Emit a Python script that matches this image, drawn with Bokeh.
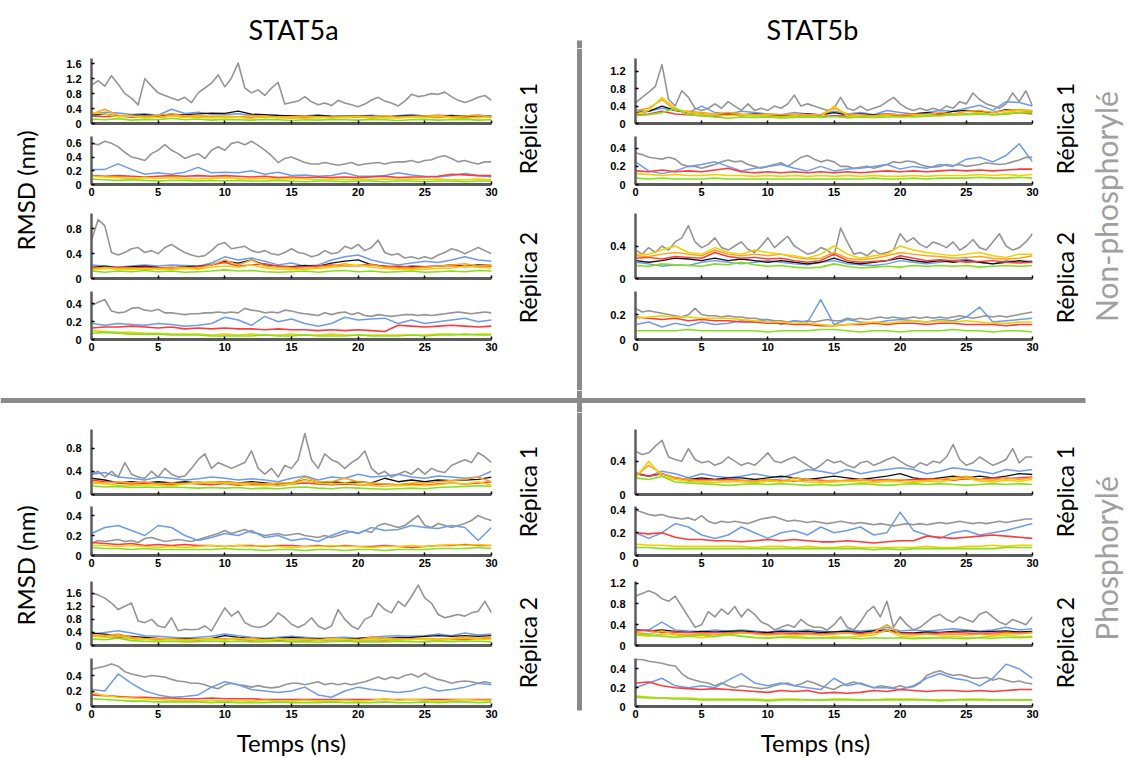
import math
from bokeh.plotting import figure
from bokeh.layouts import row, column
from bokeh.models import Range1d, FixedTicker, CustomJSTickFormatter, Span
from bokeh.core.properties import value
from bokeh.embed import file_html
from bokeh.resources import INLINE

# ---------------- time axes ----------------
TIME_FINE = [i / 2 for i in range(61)]   # 0, 0.5, ... 30 ns
TIME = list(range(31))                   # 0, 1, ... 30 ns
X_TICKS = [0, 5, 10, 15, 20, 25, 30]

GRAY = "#959595"; BLUE = "#6f9be8"; BLACK = "#111111"; RED = "#ff3a3a"
ORANGE = "#ffa31a"; YELLOW = "#f2cf00"; GREEN = "#84e01e"
AXIS = "#5c5c5c"; CROSS = "#8a8a8a"; SIDE = "#a0a0a0"

# ================= STAT5a, non-phosphorylé =================
a_np_r1_top_gray = [1.02,1.15,1.0,1.28,1.05,0.8,0.68,0.5,1.2,1.0,
                    0.82,0.75,0.68,0.62,0.7,0.56,0.82,0.95,1.08,1.3,
                    0.98,1.22,1.62,0.95,0.82,0.9,0.75,0.95,1.1,0.52,
                    0.56,0.6,0.72,0.58,0.5,0.55,0.48,0.62,0.55,0.5,
                    0.45,0.52,0.63,0.7,0.6,0.55,0.47,0.6,0.78,0.72,
                    0.75,0.8,0.78,0.84,0.72,0.62,0.56,0.62,0.7,0.75,0.62]
a_np_r1_top_blue = [0.25,0.3,0.28,0.24,0.26,0.22,0.38,0.27,0.3,0.25,0.24,0.26,0.22,0.2,0.22,0.2,0.21,0.23,0.19,0.21,0.2,0.22,0.19,0.21,0.24,0.2,0.22,0.21,0.2,0.23,0.19]
a_np_r1_top_black = [0.22,0.25,0.2,0.22,0.24,0.2,0.25,0.23,0.26,0.28,0.27,0.33,0.25,0.24,0.22,0.21,0.2,0.22,0.2,0.19,0.21,0.2,0.18,0.2,0.21,0.19,0.2,0.22,0.2,0.18,0.2]
a_np_r1_top_red = [0.2,0.18,0.2,0.17,0.19,0.16,0.2,0.18,0.17,0.19,0.18,0.17,0.16,0.18,0.17,0.15,0.17,0.16,0.18,0.16,0.17,0.18,0.16,0.17,0.19,0.17,0.16,0.18,0.17,0.16,0.18]
a_np_r1_top_orange = [0.25,0.38,0.22,0.2,0.18,0.22,0.26,0.2,0.22,0.19,0.2,0.18,0.21,0.2,0.17,0.19,0.2,0.18,0.17,0.19,0.2,0.18,0.21,0.17,0.19,0.2,0.22,0.18,0.2,0.22,0.17]
a_np_r1_top_yellow = [0.3,0.25,0.18,0.2,0.15,0.17,0.2,0.16,0.18,0.15,0.17,0.16,0.14,0.18,0.15,0.16,0.14,0.17,0.15,0.16,0.18,0.14,0.16,0.15,0.17,0.16,0.19,0.15,0.14,0.17,0.15]
a_np_r1_top_green = [0.12,0.1,0.13,0.09,0.11,0.1,0.14,0.1,0.12,0.09,0.11,0.1,0.09,0.11,0.1,0.08,0.1,0.09,0.11,0.1,0.09,0.11,0.1,0.08,0.1,0.11,0.09,0.1,0.11,0.09,0.1]

a_np_r1_bot_gray = [0.6,0.58,0.63,0.6,0.55,0.47,0.4,0.38,0.35,0.45,
                    0.5,0.58,0.5,0.45,0.38,0.42,0.45,0.38,0.5,0.55,
                    0.5,0.6,0.62,0.58,0.63,0.57,0.5,0.42,0.32,0.38,
                    0.4,0.36,0.32,0.3,0.3,0.32,0.3,0.28,0.3,0.32,
                    0.28,0.3,0.31,0.32,0.3,0.32,0.33,0.33,0.35,0.32,
                    0.35,0.36,0.4,0.42,0.38,0.33,0.35,0.32,0.3,0.33,0.33]
a_np_r1_bot_blue = [0.22,0.22,0.3,0.22,0.15,0.17,0.15,0.18,0.25,0.17,0.18,0.17,0.2,0.15,0.18,0.13,0.14,0.12,0.13,0.17,0.12,0.12,0.13,0.17,0.14,0.12,0.11,0.13,0.16,0.13,0.11]
a_np_r1_bot_red = [0.13,0.12,0.13,0.12,0.11,0.12,0.13,0.12,0.13,0.12,0.13,0.12,0.11,0.12,0.1,0.11,0.1,0.11,0.1,0.11,0.1,0.11,0.12,0.1,0.11,0.11,0.12,0.15,0.14,0.13,0.13]
a_np_r1_bot_yellow = [0.12,0.11,0.1,0.09,0.1,0.09,0.1,0.09,0.08,0.09,0.1,0.09,0.08,0.09,0.08,0.09,0.08,0.07,0.08,0.07,0.08,0.07,0.08,0.07,0.08,0.07,0.08,0.07,0.07,0.08,0.07]
a_np_r1_bot_green = [0.08,0.07,0.06,0.07,0.06,0.05,0.06,0.06,0.05,0.06,0.05,0.06,0.05,0.05,0.06,0.05,0.04,0.05,0.05,0.04,0.05,0.05,0.04,0.05,0.05,0.04,0.05,0.05,0.04,0.05,0.05]

a_np_r2_top_gray = [0.62,0.95,0.85,0.42,0.38,0.42,0.48,0.5,0.42,0.45,
                    0.4,0.5,0.55,0.48,0.42,0.38,0.35,0.37,0.45,0.55,
                    0.58,0.48,0.5,0.52,0.45,0.42,0.45,0.4,0.38,0.42,
                    0.48,0.42,0.4,0.35,0.38,0.45,0.4,0.42,0.52,0.48,
                    0.55,0.45,0.5,0.62,0.42,0.38,0.4,0.33,0.35,0.32,
                    0.35,0.32,0.38,0.42,0.48,0.45,0.4,0.45,0.5,0.45,0.4]
a_np_r2_top_blue = [0.22,0.2,0.18,0.2,0.22,0.2,0.22,0.21,0.2,0.25,0.35,0.3,0.33,0.28,0.22,0.25,0.2,0.22,0.3,0.35,0.38,0.3,0.25,0.22,0.25,0.28,0.26,0.3,0.35,0.3,0.28]
a_np_r2_top_black = [0.18,0.2,0.17,0.19,0.2,0.18,0.17,0.19,0.2,0.22,0.28,0.25,0.3,0.22,0.2,0.19,0.21,0.2,0.25,0.28,0.3,0.22,0.2,0.18,0.2,0.19,0.2,0.22,0.2,0.22,0.21]
a_np_r2_top_red = [0.18,0.17,0.18,0.17,0.18,0.17,0.18,0.17,0.19,0.22,0.26,0.2,0.22,0.24,0.2,0.18,0.19,0.2,0.22,0.2,0.21,0.23,0.19,0.2,0.18,0.19,0.2,0.21,0.19,0.2,0.2]
a_np_r2_top_orange = [0.15,0.18,0.16,0.17,0.15,0.16,0.17,0.18,0.16,0.22,0.3,0.22,0.3,0.2,0.18,0.17,0.15,0.18,0.2,0.24,0.2,0.22,0.18,0.17,0.16,0.18,0.2,0.22,0.24,0.2,0.22]
a_np_r2_top_yellow = [0.14,0.16,0.15,0.14,0.16,0.15,0.14,0.16,0.15,0.18,0.2,0.18,0.22,0.17,0.15,0.14,0.15,0.16,0.18,0.2,0.22,0.18,0.16,0.15,0.14,0.15,0.16,0.17,0.2,0.18,0.17]
a_np_r2_top_green = [0.12,0.1,0.12,0.11,0.13,0.11,0.12,0.1,0.11,0.12,0.14,0.12,0.13,0.11,0.1,0.11,0.12,0.1,0.12,0.13,0.11,0.12,0.1,0.11,0.12,0.1,0.11,0.12,0.11,0.13,0.12]

a_np_r2_bot_gray = [0.38,0.42,0.45,0.32,0.3,0.31,0.35,0.36,0.33,0.32,
                    0.34,0.3,0.3,0.29,0.28,0.29,0.29,0.3,0.3,0.31,
                    0.3,0.31,0.3,0.35,0.33,0.32,0.3,0.31,0.3,0.33,
                    0.32,0.3,0.29,0.28,0.27,0.3,0.28,0.3,0.31,0.28,
                    0.3,0.27,0.26,0.28,0.27,0.26,0.27,0.28,0.28,0.27,
                    0.28,0.27,0.28,0.29,0.3,0.31,0.3,0.29,0.3,0.31,0.3]
a_np_r2_bot_blue = [0.18,0.16,0.18,0.17,0.16,0.18,0.17,0.15,0.16,0.18,0.25,0.22,0.16,0.26,0.2,0.23,0.18,0.15,0.18,0.25,0.22,0.23,0.24,0.18,0.22,0.18,0.2,0.22,0.24,0.2,0.22]
a_np_r2_bot_red = [0.13,0.14,0.14,0.15,0.14,0.13,0.14,0.12,0.13,0.12,0.13,0.12,0.12,0.11,0.12,0.11,0.11,0.1,0.11,0.1,0.11,0.1,0.09,0.16,0.15,0.14,0.15,0.16,0.15,0.14,0.15]
a_np_r2_bot_yellow = [0.1,0.09,0.08,0.08,0.07,0.07,0.06,0.06,0.06,0.05,0.06,0.05,0.06,0.05,0.05,0.06,0.05,0.05,0.06,0.05,0.05,0.05,0.05,0.05,0.05,0.05,0.06,0.06,0.05,0.06,0.06]
a_np_r2_bot_green = [0.07,0.08,0.07,0.06,0.06,0.06,0.05,0.05,0.05,0.04,0.04,0.04,0.04,0.05,0.04,0.04,0.05,0.04,0.04,0.04,0.05,0.04,0.04,0.04,0.05,0.04,0.05,0.05,0.06,0.05,0.05]

# ================= STAT5b, non-phosphorylé =================
b_np_r1_top_gray = [0.47,0.6,0.72,0.85,1.35,0.55,0.4,0.75,0.6,0.35,
                    0.3,0.35,0.45,0.35,0.5,0.4,0.3,0.45,0.3,0.35,
                    0.3,0.4,0.35,0.45,0.65,0.4,0.45,0.4,0.35,0.3,
                    0.35,0.6,0.35,0.3,0.4,0.3,0.35,0.4,0.5,0.6,
                    0.45,0.35,0.3,0.35,0.3,0.35,0.3,0.4,0.35,0.5,
                    0.45,0.7,0.55,0.45,0.4,0.35,0.45,0.7,0.5,0.75,0.4]
b_np_r1_top_blue = [0.3,0.28,0.35,0.3,0.25,0.4,0.25,0.22,0.28,0.25,0.22,0.2,0.25,0.22,0.2,0.28,0.22,0.25,0.2,0.3,0.25,0.22,0.25,0.3,0.28,0.35,0.42,0.3,0.5,0.48,0.4]
b_np_r1_top_black = [0.25,0.28,0.4,0.3,0.25,0.22,0.2,0.22,0.2,0.22,0.2,0.18,0.2,0.22,0.2,0.25,0.2,0.22,0.2,0.22,0.2,0.22,0.25,0.22,0.28,0.3,0.28,0.25,0.32,0.3,0.28]
b_np_r1_top_red = [0.2,0.22,0.28,0.22,0.2,0.18,0.16,0.2,0.18,0.2,0.17,0.16,0.18,0.17,0.16,0.18,0.17,0.16,0.18,0.2,0.18,0.19,0.2,0.21,0.2,0.22,0.24,0.2,0.22,0.25,0.22]
b_np_r1_top_orange = [0.3,0.35,0.55,0.3,0.28,0.25,0.22,0.25,0.22,0.2,0.22,0.2,0.22,0.2,0.2,0.35,0.22,0.2,0.18,0.22,0.2,0.22,0.2,0.25,0.22,0.28,0.3,0.25,0.3,0.32,0.3]
b_np_r1_top_yellow = [0.22,0.3,0.6,0.35,0.25,0.22,0.2,0.18,0.2,0.17,0.18,0.15,0.18,0.16,0.15,0.4,0.18,0.15,0.16,0.18,0.15,0.17,0.2,0.18,0.2,0.22,0.25,0.2,0.25,0.3,0.28]
b_np_r1_top_green = [0.18,0.2,0.25,0.35,0.2,0.18,0.15,0.12,0.15,0.14,0.15,0.13,0.14,0.15,0.14,0.16,0.13,0.15,0.14,0.15,0.16,0.15,0.17,0.18,0.2,0.2,0.22,0.2,0.22,0.25,0.25]

b_np_r1_bot_gray = [0.35,0.33,0.3,0.29,0.28,0.3,0.28,0.22,0.2,0.2,
                    0.18,0.2,0.22,0.25,0.27,0.25,0.26,0.22,0.2,0.18,
                    0.2,0.22,0.24,0.2,0.25,0.3,0.32,0.28,0.25,0.27,
                    0.25,0.2,0.2,0.18,0.19,0.2,0.18,0.2,0.22,0.25,
                    0.24,0.26,0.25,0.22,0.2,0.19,0.2,0.22,0.21,0.22,
                    0.2,0.21,0.22,0.24,0.23,0.22,0.23,0.25,0.27,0.3,0.3]
b_np_r1_bot_blue = [0.25,0.15,0.12,0.15,0.2,0.22,0.25,0.2,0.15,0.18,0.2,0.22,0.18,0.15,0.2,0.15,0.17,0.18,0.2,0.22,0.17,0.2,0.18,0.22,0.2,0.28,0.3,0.25,0.32,0.45,0.25]
b_np_r1_bot_red = [0.15,0.14,0.16,0.14,0.15,0.14,0.16,0.18,0.14,0.13,0.14,0.13,0.14,0.13,0.14,0.13,0.14,0.13,0.14,0.15,0.14,0.15,0.14,0.15,0.16,0.15,0.16,0.15,0.16,0.17,0.17]
b_np_r1_bot_yellow = [0.12,0.11,0.1,0.11,0.1,0.1,0.11,0.1,0.1,0.09,0.1,0.09,0.1,0.09,0.1,0.09,0.1,0.09,0.1,0.09,0.09,0.1,0.09,0.1,0.1,0.1,0.11,0.1,0.11,0.1,0.11]
b_np_r1_bot_green = [0.07,0.06,0.07,0.06,0.06,0.06,0.07,0.06,0.06,0.06,0.06,0.06,0.06,0.06,0.06,0.06,0.06,0.06,0.07,0.06,0.06,0.07,0.06,0.07,0.07,0.07,0.08,0.07,0.07,0.08,0.07]

b_np_r2_top_gray = [0.35,0.3,0.38,0.32,0.4,0.35,0.45,0.5,0.65,0.45,
                    0.38,0.42,0.5,0.38,0.35,0.4,0.45,0.36,0.32,0.4,
                    0.5,0.38,0.45,0.52,0.4,0.35,0.3,0.32,0.38,0.35,
                    0.28,0.62,0.45,0.3,0.32,0.28,0.35,0.3,0.32,0.35,
                    0.55,0.45,0.5,0.42,0.38,0.45,0.42,0.38,0.45,0.35,
                    0.4,0.48,0.38,0.35,0.45,0.55,0.4,0.35,0.38,0.45,0.55]
b_np_r2_top_blue = [0.2,0.18,0.15,0.17,0.16,0.2,0.22,0.2,0.18,0.2,0.22,0.2,0.18,0.17,0.2,0.22,0.18,0.17,0.16,0.18,0.22,0.2,0.18,0.2,0.22,0.24,0.2,0.18,0.22,0.2,0.22]
b_np_r2_top_black = [0.22,0.2,0.22,0.25,0.24,0.22,0.25,0.22,0.24,0.22,0.2,0.22,0.2,0.18,0.2,0.25,0.2,0.18,0.2,0.22,0.25,0.22,0.2,0.22,0.2,0.22,0.2,0.18,0.2,0.22,0.2]
b_np_r2_top_red = [0.25,0.26,0.24,0.27,0.26,0.25,0.32,0.27,0.25,0.26,0.24,0.25,0.22,0.2,0.22,0.3,0.22,0.2,0.21,0.22,0.28,0.25,0.22,0.23,0.22,0.2,0.21,0.22,0.2,0.19,0.2]
b_np_r2_top_orange = [0.28,0.27,0.3,0.32,0.3,0.28,0.35,0.3,0.28,0.3,0.28,0.3,0.26,0.24,0.25,0.32,0.25,0.23,0.25,0.28,0.32,0.3,0.28,0.27,0.25,0.26,0.27,0.25,0.24,0.25,0.28]
b_np_r2_top_yellow = [0.3,0.3,0.35,0.4,0.32,0.3,0.38,0.32,0.3,0.35,0.32,0.3,0.28,0.25,0.3,0.4,0.3,0.25,0.28,0.3,0.4,0.35,0.32,0.3,0.28,0.3,0.32,0.28,0.26,0.3,0.3]
b_np_r2_top_green = [0.16,0.15,0.18,0.17,0.16,0.15,0.18,0.17,0.2,0.17,0.15,0.16,0.14,0.13,0.14,0.18,0.15,0.13,0.14,0.15,0.14,0.16,0.15,0.16,0.15,0.16,0.14,0.15,0.16,0.15,0.16]

b_np_r2_bot_gray = [0.25,0.22,0.23,0.22,0.21,0.2,0.19,0.18,0.2,0.25,
                    0.2,0.19,0.19,0.18,0.19,0.18,0.18,0.17,0.17,0.16,
                    0.16,0.15,0.15,0.14,0.15,0.14,0.15,0.14,0.15,0.16,
                    0.15,0.15,0.17,0.16,0.17,0.16,0.17,0.18,0.17,0.18,
                    0.17,0.17,0.18,0.17,0.18,0.17,0.18,0.17,0.18,0.19,
                    0.18,0.17,0.18,0.19,0.18,0.19,0.18,0.19,0.2,0.21,0.22]
b_np_r2_bot_blue = [0.12,0.14,0.1,0.13,0.11,0.14,0.12,0.13,0.15,0.14,0.16,0.12,0.15,0.14,0.32,0.12,0.16,0.14,0.13,0.15,0.16,0.15,0.14,0.16,0.15,0.18,0.26,0.14,0.15,0.16,0.17]
b_np_r2_bot_red = [0.18,0.17,0.16,0.17,0.15,0.16,0.15,0.15,0.14,0.14,0.13,0.13,0.12,0.12,0.11,0.11,0.12,0.12,0.13,0.12,0.13,0.13,0.12,0.13,0.13,0.12,0.12,0.12,0.11,0.12,0.12]
b_np_r2_bot_yellow = [0.17,0.18,0.19,0.18,0.18,0.17,0.17,0.17,0.16,0.15,0.14,0.14,0.13,0.13,0.12,0.11,0.12,0.13,0.14,0.13,0.14,0.15,0.14,0.15,0.14,0.15,0.14,0.13,0.13,0.14,0.14]
b_np_r2_bot_green = [0.07,0.07,0.07,0.07,0.08,0.07,0.07,0.07,0.07,0.07,0.06,0.07,0.07,0.07,0.08,0.08,0.07,0.06,0.07,0.07,0.06,0.07,0.07,0.07,0.08,0.07,0.07,0.06,0.07,0.07,0.06]

# ================= STAT5a, phosphorylé =================
a_p_r1_top_gray = [0.35,0.4,0.3,0.4,0.3,0.55,0.35,0.3,0.28,0.4,
                   0.3,0.45,0.35,0.3,0.32,0.45,0.6,0.7,0.45,0.55,
                   0.5,0.45,0.5,0.55,0.75,0.45,0.35,0.45,0.3,0.5,
                   0.45,0.6,1.05,0.6,0.45,0.7,0.6,0.55,0.45,0.55,
                   0.62,0.75,0.45,0.35,0.4,0.3,0.35,0.4,0.35,0.45,
                   0.35,0.45,0.4,0.38,0.5,0.55,0.6,0.55,0.72,0.65,0.55]
a_p_r1_top_blue = [0.35,0.38,0.3,0.28,0.25,0.3,0.28,0.25,0.27,0.3,0.28,0.25,0.27,0.25,0.22,0.28,0.32,0.25,0.3,0.28,0.35,0.3,0.32,0.35,0.3,0.28,0.32,0.3,0.28,0.3,0.4]
a_p_r1_top_black = [0.28,0.25,0.2,0.22,0.2,0.22,0.2,0.22,0.2,0.21,0.22,0.2,0.22,0.2,0.18,0.2,0.25,0.2,0.22,0.2,0.22,0.2,0.28,0.22,0.25,0.22,0.25,0.24,0.25,0.26,0.3]
a_p_r1_top_red = [0.25,0.22,0.2,0.18,0.2,0.18,0.17,0.2,0.18,0.17,0.19,0.16,0.18,0.17,0.15,0.18,0.2,0.18,0.17,0.18,0.17,0.16,0.18,0.17,0.18,0.16,0.18,0.2,0.18,0.2,0.22]
a_p_r1_top_orange = [0.22,0.2,0.22,0.2,0.22,0.18,0.2,0.18,0.22,0.2,0.22,0.2,0.2,0.18,0.2,0.2,0.3,0.22,0.22,0.28,0.22,0.2,0.18,0.17,0.2,0.2,0.22,0.24,0.26,0.3,0.22]
a_p_r1_top_yellow = [0.2,0.18,0.16,0.15,0.17,0.16,0.15,0.18,0.2,0.22,0.2,0.18,0.16,0.15,0.16,0.18,0.25,0.2,0.18,0.2,0.18,0.15,0.14,0.15,0.16,0.15,0.17,0.2,0.18,0.22,0.16]
a_p_r1_top_green = [0.15,0.13,0.14,0.12,0.13,0.12,0.13,0.12,0.11,0.12,0.11,0.12,0.1,0.11,0.1,0.12,0.13,0.11,0.1,0.12,0.11,0.1,0.09,0.1,0.11,0.1,0.12,0.13,0.14,0.15,0.14]

a_p_r1_bot_gray = [0.12,0.15,0.14,0.15,0.16,0.14,0.15,0.13,0.17,0.18,
                   0.16,0.14,0.15,0.16,0.15,0.14,0.16,0.18,0.2,0.22,
                   0.25,0.22,0.24,0.26,0.23,0.22,0.2,0.21,0.22,0.2,
                   0.21,0.22,0.2,0.19,0.18,0.2,0.18,0.2,0.22,0.24,
                   0.22,0.25,0.23,0.3,0.32,0.3,0.28,0.3,0.35,0.4,
                   0.3,0.28,0.32,0.3,0.28,0.3,0.32,0.35,0.4,0.37,0.35]
a_p_r1_bot_blue = [0.22,0.28,0.3,0.25,0.2,0.3,0.28,0.2,0.15,0.18,0.22,0.2,0.25,0.18,0.2,0.15,0.17,0.14,0.2,0.25,0.22,0.28,0.25,0.26,0.3,0.28,0.27,0.3,0.28,0.15,0.28]
a_p_r1_bot_red = [0.13,0.12,0.11,0.12,0.1,0.11,0.1,0.11,0.1,0.1,0.09,0.1,0.1,0.09,0.1,0.1,0.09,0.1,0.09,0.1,0.09,0.09,0.1,0.09,0.08,0.09,0.1,0.1,0.11,0.1,0.1]
a_p_r1_bot_yellow = [0.1,0.1,0.09,0.1,0.09,0.08,0.09,0.08,0.09,0.1,0.09,0.1,0.09,0.1,0.09,0.08,0.09,0.09,0.1,0.09,0.09,0.08,0.09,0.09,0.1,0.09,0.1,0.11,0.1,0.11,0.1]
a_p_r1_bot_green = [0.08,0.07,0.07,0.06,0.07,0.06,0.06,0.06,0.06,0.06,0.07,0.06,0.06,0.05,0.06,0.06,0.05,0.06,0.06,0.05,0.06,0.06,0.05,0.06,0.06,0.06,0.07,0.07,0.07,0.08,0.07]

a_p_r2_top_gray = [1.6,1.55,1.45,1.3,1.1,1.2,1.3,0.75,0.7,0.8,
                   0.6,0.55,0.85,0.45,0.5,0.48,0.5,0.6,0.45,0.8,
                   1.15,0.9,1.05,0.7,0.6,0.55,0.6,0.75,1.0,0.85,
                   0.65,0.55,0.65,0.85,0.6,0.5,0.6,1.1,0.8,0.6,
                   0.5,0.8,0.9,1.3,1.1,1.0,1.35,1.2,1.5,1.85,
                   1.45,1.3,0.95,0.85,0.9,0.95,0.9,1.0,1.05,1.35,1.0]
a_p_r2_top_blue = [0.35,0.4,0.45,0.38,0.3,0.28,0.25,0.22,0.25,0.28,0.35,0.3,0.25,0.22,0.25,0.28,0.25,0.22,0.24,0.25,0.22,0.25,0.28,0.3,0.28,0.3,0.35,0.3,0.38,0.32,0.35]
a_p_r2_top_black = [0.38,0.35,0.3,0.28,0.25,0.22,0.2,0.22,0.2,0.22,0.3,0.25,0.22,0.2,0.22,0.25,0.22,0.2,0.22,0.2,0.22,0.25,0.22,0.24,0.25,0.28,0.3,0.28,0.3,0.28,0.3]
a_p_r2_top_red = [0.3,0.28,0.25,0.22,0.2,0.18,0.2,0.18,0.17,0.19,0.2,0.18,0.17,0.18,0.16,0.18,0.17,0.16,0.18,0.17,0.16,0.18,0.17,0.18,0.2,0.18,0.17,0.19,0.18,0.2,0.22]
a_p_r2_top_orange = [0.32,0.3,0.35,0.25,0.2,0.22,0.2,0.18,0.2,0.22,0.18,0.2,0.22,0.18,0.2,0.18,0.2,0.18,0.22,0.2,0.18,0.25,0.22,0.2,0.18,0.22,0.2,0.22,0.25,0.22,0.25]
a_p_r2_top_yellow = [0.28,0.25,0.3,0.2,0.18,0.16,0.18,0.15,0.18,0.2,0.16,0.22,0.18,0.15,0.2,0.16,0.18,0.15,0.2,0.18,0.15,0.2,0.18,0.16,0.18,0.2,0.17,0.2,0.22,0.18,0.2]
a_p_r2_top_green = [0.2,0.18,0.22,0.15,0.13,0.12,0.13,0.11,0.12,0.14,0.12,0.13,0.11,0.12,0.13,0.11,0.12,0.1,0.12,0.13,0.11,0.12,0.11,0.13,0.12,0.11,0.13,0.12,0.14,0.13,0.12]

a_p_r2_bot_gray = [0.48,0.5,0.52,0.55,0.52,0.45,0.42,0.4,0.38,0.4,
                   0.39,0.38,0.35,0.33,0.32,0.3,0.3,0.28,0.25,0.23,
                   0.28,0.3,0.28,0.27,0.25,0.27,0.25,0.24,0.25,0.28,
                   0.3,0.3,0.28,0.3,0.32,0.28,0.3,0.28,0.3,0.28,
                   0.3,0.32,0.35,0.38,0.35,0.38,0.36,0.4,0.42,0.38,
                   0.43,0.38,0.35,0.33,0.3,0.32,0.33,0.32,0.3,0.32,0.3]
a_p_r2_bot_blue = [0.22,0.2,0.42,0.3,0.2,0.15,0.12,0.13,0.15,0.25,0.32,0.28,0.22,0.2,0.18,0.2,0.25,0.15,0.12,0.2,0.25,0.22,0.2,0.18,0.2,0.25,0.2,0.22,0.25,0.3,0.28]
a_p_r2_bot_red = [0.15,0.14,0.13,0.12,0.12,0.11,0.11,0.1,0.1,0.11,0.1,0.1,0.1,0.09,0.09,0.09,0.09,0.09,0.09,0.09,0.09,0.09,0.09,0.09,0.09,0.09,0.09,0.09,0.09,0.09,0.09]
a_p_r2_bot_yellow = [0.18,0.14,0.12,0.11,0.1,0.09,0.08,0.08,0.07,0.08,0.07,0.08,0.07,0.08,0.07,0.07,0.08,0.07,0.07,0.08,0.07,0.08,0.1,0.08,0.09,0.08,0.07,0.08,0.09,0.08,0.08]
a_p_r2_bot_green = [0.1,0.09,0.08,0.07,0.07,0.06,0.06,0.06,0.06,0.05,0.06,0.05,0.05,0.05,0.06,0.05,0.05,0.05,0.06,0.05,0.05,0.05,0.06,0.05,0.05,0.06,0.05,0.06,0.06,0.05,0.06]

# ================= STAT5b, phosphorylé =================
b_p_r1_top_gray = [0.52,0.48,0.5,0.58,0.65,0.45,0.42,0.4,0.55,0.42,
                   0.38,0.4,0.35,0.38,0.45,0.4,0.35,0.38,0.35,0.42,
                   0.5,0.4,0.38,0.42,0.45,0.4,0.35,0.3,0.35,0.42,
                   0.38,0.4,0.35,0.32,0.38,0.4,0.35,0.38,0.42,0.45,
                   0.4,0.35,0.32,0.38,0.35,0.4,0.38,0.45,0.6,0.42,
                   0.35,0.38,0.45,0.4,0.35,0.38,0.42,0.55,0.38,0.45,0.45]
b_p_r1_top_blue = [0.25,0.22,0.28,0.25,0.2,0.25,0.22,0.2,0.22,0.25,0.22,0.2,0.25,0.3,0.28,0.25,0.3,0.25,0.28,0.3,0.32,0.3,0.25,0.28,0.32,0.3,0.28,0.25,0.3,0.28,0.3]
b_p_r1_top_black = [0.25,0.22,0.25,0.2,0.18,0.2,0.18,0.2,0.2,0.18,0.2,0.22,0.2,0.18,0.2,0.22,0.2,0.18,0.2,0.22,0.25,0.2,0.18,0.2,0.22,0.2,0.22,0.2,0.22,0.25,0.24]
b_p_r1_top_red = [0.26,0.22,0.25,0.2,0.17,0.18,0.17,0.18,0.17,0.16,0.18,0.17,0.16,0.18,0.17,0.16,0.17,0.18,0.17,0.18,0.17,0.18,0.19,0.18,0.17,0.19,0.18,0.2,0.19,0.2,0.21]
b_p_r1_top_orange = [0.22,0.35,0.25,0.2,0.18,0.16,0.17,0.15,0.17,0.16,0.18,0.16,0.2,0.18,0.16,0.17,0.16,0.18,0.16,0.17,0.18,0.16,0.17,0.18,0.2,0.22,0.18,0.17,0.2,0.18,0.2]
b_p_r1_top_yellow = [0.2,0.4,0.22,0.18,0.16,0.15,0.14,0.16,0.15,0.14,0.16,0.15,0.17,0.15,0.14,0.15,0.16,0.15,0.14,0.16,0.15,0.14,0.16,0.15,0.18,0.2,0.16,0.15,0.17,0.16,0.18]
b_p_r1_top_green = [0.2,0.18,0.22,0.15,0.14,0.13,0.12,0.11,0.12,0.13,0.12,0.13,0.12,0.11,0.12,0.11,0.12,0.13,0.12,0.11,0.12,0.13,0.12,0.13,0.12,0.11,0.12,0.13,0.12,0.13,0.12]

b_p_r1_bot_gray = [0.4,0.38,0.36,0.35,0.36,0.34,0.33,0.32,0.33,0.31,
                   0.35,0.3,0.28,0.3,0.29,0.3,0.29,0.28,0.3,0.32,
                   0.33,0.34,0.32,0.3,0.31,0.3,0.29,0.3,0.29,0.28,
                   0.29,0.3,0.29,0.28,0.29,0.28,0.27,0.28,0.27,0.26,
                   0.27,0.28,0.27,0.28,0.27,0.28,0.29,0.28,0.29,0.3,
                   0.29,0.28,0.29,0.28,0.29,0.3,0.29,0.3,0.31,0.32,0.32]
b_p_r1_bot_blue = [0.2,0.15,0.2,0.28,0.25,0.18,0.15,0.18,0.25,0.2,0.15,0.2,0.22,0.18,0.25,0.2,0.22,0.25,0.18,0.2,0.38,0.22,0.18,0.15,0.2,0.22,0.18,0.2,0.22,0.25,0.28]
b_p_r1_bot_red = [0.2,0.19,0.2,0.16,0.14,0.14,0.13,0.13,0.12,0.13,0.14,0.13,0.14,0.13,0.12,0.12,0.13,0.12,0.11,0.12,0.13,0.13,0.17,0.16,0.15,0.16,0.17,0.18,0.17,0.16,0.15]
b_p_r1_bot_yellow = [0.1,0.09,0.09,0.08,0.08,0.08,0.08,0.08,0.08,0.07,0.08,0.08,0.07,0.08,0.07,0.07,0.08,0.07,0.07,0.07,0.07,0.07,0.08,0.07,0.07,0.08,0.08,0.09,0.08,0.09,0.09]
b_p_r1_bot_green = [0.07,0.07,0.06,0.06,0.06,0.06,0.06,0.06,0.06,0.06,0.06,0.06,0.06,0.06,0.06,0.06,0.06,0.06,0.05,0.06,0.05,0.06,0.06,0.06,0.06,0.06,0.06,0.06,0.07,0.07,0.07]

b_p_r2_top_gray = [0.95,1.0,1.05,1.0,0.9,0.85,0.95,0.75,0.55,0.35,
                   0.4,0.65,0.55,0.7,0.6,0.75,0.55,0.7,0.6,0.45,
                   0.4,0.3,0.35,0.4,0.35,0.5,0.4,0.35,0.35,0.3,
                   0.4,0.55,0.35,0.3,0.45,0.65,0.75,0.55,0.85,0.35,
                   0.55,0.4,0.3,0.35,0.45,0.55,0.6,0.5,0.45,0.55,
                   0.5,0.45,0.6,0.65,0.55,0.45,0.4,0.5,0.45,0.4,0.55]
b_p_r2_top_blue = [0.3,0.3,0.45,0.3,0.28,0.27,0.3,0.28,0.3,0.28,0.25,0.3,0.28,0.3,0.28,0.26,0.3,0.28,0.3,0.35,0.28,0.3,0.28,0.3,0.32,0.3,0.28,0.3,0.35,0.3,0.32]
b_p_r2_top_black = [0.3,0.28,0.3,0.27,0.25,0.27,0.26,0.27,0.28,0.26,0.25,0.27,0.26,0.27,0.25,0.26,0.27,0.25,0.28,0.3,0.25,0.24,0.26,0.25,0.27,0.28,0.26,0.27,0.28,0.26,0.27]
b_p_r2_top_red = [0.28,0.3,0.25,0.26,0.25,0.24,0.25,0.24,0.25,0.24,0.22,0.24,0.23,0.24,0.22,0.23,0.24,0.23,0.25,0.28,0.24,0.23,0.22,0.24,0.25,0.24,0.23,0.24,0.25,0.24,0.25]
b_p_r2_top_orange = [0.25,0.22,0.28,0.22,0.2,0.22,0.2,0.22,0.25,0.22,0.2,0.22,0.2,0.22,0.2,0.22,0.24,0.2,0.25,0.4,0.22,0.2,0.22,0.2,0.22,0.2,0.22,0.2,0.24,0.22,0.25]
b_p_r2_top_yellow = [0.2,0.18,0.22,0.2,0.18,0.15,0.18,0.2,0.18,0.16,0.15,0.17,0.18,0.16,0.15,0.17,0.16,0.18,0.2,0.3,0.18,0.16,0.15,0.16,0.18,0.15,0.16,0.18,0.2,0.17,0.18]
b_p_r2_top_green = [0.22,0.2,0.18,0.16,0.18,0.2,0.17,0.22,0.18,0.15,0.14,0.16,0.15,0.14,0.15,0.14,0.15,0.13,0.15,0.14,0.15,0.13,0.14,0.15,0.14,0.13,0.15,0.14,0.16,0.15,0.16]

b_p_r2_bot_gray = [0.5,0.5,0.48,0.47,0.46,0.44,0.43,0.35,0.3,0.28,
                   0.26,0.25,0.22,0.25,0.22,0.2,0.22,0.21,0.2,0.19,
                   0.2,0.22,0.24,0.25,0.22,0.24,0.27,0.25,0.22,0.2,
                   0.18,0.22,0.24,0.26,0.24,0.22,0.2,0.22,0.21,0.2,
                   0.22,0.2,0.21,0.25,0.33,0.36,0.38,0.35,0.33,0.34,
                   0.32,0.3,0.3,0.31,0.28,0.3,0.28,0.26,0.27,0.25,0.24]
b_p_r2_bot_blue = [0.2,0.25,0.3,0.22,0.2,0.22,0.2,0.28,0.35,0.25,0.22,0.25,0.22,0.2,0.18,0.3,0.22,0.25,0.2,0.2,0.18,0.22,0.3,0.35,0.3,0.28,0.22,0.3,0.45,0.4,0.3]
b_p_r2_bot_red = [0.25,0.26,0.22,0.2,0.19,0.18,0.19,0.18,0.17,0.16,0.15,0.17,0.16,0.17,0.14,0.15,0.14,0.15,0.17,0.16,0.18,0.17,0.16,0.17,0.17,0.16,0.17,0.16,0.17,0.18,0.18]
b_p_r2_bot_yellow = [0.11,0.1,0.09,0.09,0.09,0.08,0.08,0.08,0.08,0.08,0.07,0.08,0.08,0.07,0.07,0.08,0.08,0.07,0.07,0.08,0.08,0.08,0.07,0.07,0.07,0.08,0.08,0.07,0.07,0.07,0.07]
b_p_r2_bot_green = [0.1,0.09,0.09,0.08,0.08,0.07,0.07,0.07,0.07,0.07,0.06,0.07,0.07,0.07,0.07,0.07,0.07,0.07,0.07,0.07,0.07,0.07,0.07,0.06,0.07,0.07,0.07,0.07,0.07,0.07,0.07]

# y-axis tick values per panel
TICKS_16 = [0, 0.4, 0.8, 1.2, 1.6]
TICKS_12 = [0, 0.4, 0.8, 1.2]
TICKS_08 = [0, 0.4, 0.8]
TICKS_06 = [0, 0.2, 0.4, 0.6]
TICKS_04 = [0, 0.2, 0.4]
TICKS_04B = [0, 0.4]
TICKS_02 = [0, 0.2]

LBL_FONT = "Lato"
TICK_FONT = "Liberation Sans"


def top_series(g, b, k, r, o, y, gr):
    return [(TIME_FINE, g, GRAY, 1.6), (TIME, b, BLUE, 1.5), (TIME, k, BLACK, 1.3), (TIME, r, RED, 1.5),
            (TIME, o, ORANGE, 1.5), (TIME, y, YELLOW, 1.5), (TIME, gr, GREEN, 1.6)]


def bot_series(g, b, r, y, gr):
    return [(TIME_FINE, g, GRAY, 1.6), (TIME, b, BLUE, 1.5), (TIME, r, RED, 1.6),
            (TIME, y, YELLOW, 1.6), (TIME, gr, GREEN, 1.6)]


def panel(series, ymax, yticks, xlabels, width, left, right, top, frame_h, bottom):
    p = figure(width=width, height=top + frame_h + bottom,
               x_range=Range1d(0, 30), y_range=Range1d(0, ymax),
               output_backend="svg", toolbar_location=None,
               min_border_left=left, min_border_right=right,
               min_border_top=top, min_border_bottom=bottom)
    p.grid.visible = False
    p.outline_line_color = None
    for xs, ys, color, lw in series:
        n = min(len(xs), len(ys))
        p.line(xs[:n], ys[:n], line_color=color, line_width=lw, line_join="round")
    xa = p.xaxis[0]
    ya = p.yaxis[0]
    xa.ticker = FixedTicker(ticks=X_TICKS)
    ya.ticker = FixedTicker(ticks=yticks)
    for ax in (xa, ya):
        ax.axis_line_color = AXIS
        ax.major_tick_in = 3
        ax.major_tick_out = 0
        ax.major_tick_line_color = "black"
        ax.major_tick_line_width = 1.5
        ax.minor_tick_line_color = None
        ax.major_label_text_font = TICK_FONT
        ax.major_label_text_font_style = "bold"
        ax.major_label_text_color = "black"
        ax.major_label_text_font_size = "11px"
    xa.axis_line_width = 3
    ya.axis_line_width = 2.5
    ya.formatter = CustomJSTickFormatter(code="return tick == 0 ? '0' : tick.toFixed(1);")
    ya.major_label_standoff = 10
    if xlabels:
        xa.formatter = CustomJSTickFormatter(code="return tick.toFixed(0);")
        xa.major_label_standoff = 3
    else:
        xa.formatter = CustomJSTickFormatter(code="return '';")
        xa.major_label_text_font_size = "0px"
        xa.major_label_standoff = 0
    return p


def deco(x0, x1, y0, y1):
    p = figure(width=x1 - x0, height=y1 - y0, x_range=Range1d(x0, x1), y_range=Range1d(y1, y0),
               output_backend="svg", toolbar_location=None, min_border=0,
               x_axis_location=None, y_axis_location=None)
    p.grid.visible = False
    p.outline_line_color = None
    return p


def label(p, x, y, txt, size, color="black", angle=0.0):
    p.text(x=[x], y=[y], text=[txt], angle=angle, text_font=value(LBL_FONT),
           text_font_size=size, text_color=color, text_align="center", text_baseline="middle")


def vline(p, x, y0, y1):
    p.segment(x0=[x], y0=[y0], x1=[x], y1=[y1], line_color=CROSS, line_width=5)


VX = 579
UP = math.pi / 2

# ---------- title strip ----------
title = deco(0, 1124, 0, 48)
label(title, 293, 29, "STAT5a", "27px")
label(title, 812, 29, "STAT5b", "27px")
vline(title, VX, 40, 48)

# ---------- panel columns ----------
LW, LL, LR = 452, 43, 9
RW, RL, RR = 440, 35, 8

tl = column(
    panel(top_series(a_np_r1_top_gray, a_np_r1_top_blue, a_np_r1_top_black, a_np_r1_top_red,
                     a_np_r1_top_orange, a_np_r1_top_yellow, a_np_r1_top_green),
          1.74, TICKS_16, False, LW, LL, LR, 10, 65, 5),
    panel(bot_series(a_np_r1_bot_gray, a_np_r1_bot_blue, a_np_r1_bot_red, a_np_r1_bot_yellow, a_np_r1_bot_green),
          0.70, TICKS_06, True, LW, LL, LR, 8, 48, 20),
    panel(top_series(a_np_r2_top_gray, a_np_r2_top_blue, a_np_r2_top_black, a_np_r2_top_red,
                     a_np_r2_top_orange, a_np_r2_top_yellow, a_np_r2_top_green),
          1.05, TICKS_08, False, LW, LL, LR, 9, 65, 5),
    panel(bot_series(a_np_r2_bot_gray, a_np_r2_bot_blue, a_np_r2_bot_red, a_np_r2_bot_yellow, a_np_r2_bot_green),
          0.54, TICKS_04, True, LW, LL, LR, 8, 48, 51),
)
tr = column(
    panel(top_series(b_np_r1_top_gray, b_np_r1_top_blue, b_np_r1_top_black, b_np_r1_top_red,
                     b_np_r1_top_orange, b_np_r1_top_yellow, b_np_r1_top_green),
          1.49, TICKS_12, False, RW, RL, RR, 10, 65, 5),
    panel(bot_series(b_np_r1_bot_gray, b_np_r1_bot_blue, b_np_r1_bot_red, b_np_r1_bot_yellow, b_np_r1_bot_green),
          0.53, TICKS_04, True, RW, RL, RR, 8, 48, 20),
    panel(top_series(b_np_r2_top_gray, b_np_r2_top_blue, b_np_r2_top_black, b_np_r2_top_red,
                     b_np_r2_top_orange, b_np_r2_top_yellow, b_np_r2_top_green),
          0.80, TICKS_04B, False, RW, RL, RR, 9, 65, 5),
    panel(bot_series(b_np_r2_bot_gray, b_np_r2_bot_blue, b_np_r2_bot_red, b_np_r2_bot_yellow, b_np_r2_bot_green),
          0.385, TICKS_02, True, RW, RL, RR, 8, 48, 51),
)
bl = column(
    panel(top_series(a_p_r1_top_gray, a_p_r1_top_blue, a_p_r1_top_black, a_p_r1_top_red,
                     a_p_r1_top_orange, a_p_r1_top_yellow, a_p_r1_top_green),
          1.12, TICKS_08, False, LW, LL, LR, 17, 65, 5),
    panel(bot_series(a_p_r1_bot_gray, a_p_r1_bot_blue, a_p_r1_bot_red, a_p_r1_bot_yellow, a_p_r1_bot_green),
          0.49, TICKS_04, True, LW, LL, LR, 7, 49, 20),
    panel(top_series(a_p_r2_top_gray, a_p_r2_top_blue, a_p_r2_top_black, a_p_r2_top_red,
                     a_p_r2_top_orange, a_p_r2_top_yellow, a_p_r2_top_green),
          1.96, TICKS_16, False, LW, LL, LR, 6, 64, 5),
    panel(bot_series(a_p_r2_bot_gray, a_p_r2_bot_blue, a_p_r2_bot_red, a_p_r2_bot_yellow, a_p_r2_bot_green),
          0.62, TICKS_04, True, LW, LL, LR, 8, 48, 19),
)
br = column(
    panel(top_series(b_p_r1_top_gray, b_p_r1_top_blue, b_p_r1_top_black, b_p_r1_top_red,
                     b_p_r1_top_orange, b_p_r1_top_yellow, b_p_r1_top_green),
          0.78, TICKS_04B, False, RW, RL, RR, 17, 65, 5),
    panel(bot_series(b_p_r1_bot_gray, b_p_r1_bot_blue, b_p_r1_bot_red, b_p_r1_bot_yellow, b_p_r1_bot_green),
          0.43, TICKS_04, True, RW, RL, RR, 7, 49, 20),
    panel(top_series(b_p_r2_top_gray, b_p_r2_top_blue, b_p_r2_top_black, b_p_r2_top_red,
                     b_p_r2_top_orange, b_p_r2_top_yellow, b_p_r2_top_green),
          1.23, TICKS_12, False, RW, RL, RR, 6, 64, 5),
    panel(bot_series(b_p_r2_bot_gray, b_p_r2_bot_blue, b_p_r2_bot_red, b_p_r2_bot_yellow, b_p_r2_bot_green),
          0.51, TICKS_04, True, RW, RL, RR, 8, 48, 19),
)

# ---------- top half decorations ----------
rm_t = deco(0, 48, 48, 390)
label(rm_t, 25, 190, "RMSD (nm)", "24px", angle=UP)
rep_tl = deco(500, 556, 48, 390)
label(rep_tl, 527, 128, "Réplica 1", "23px", angle=UP)
label(rep_tl, 527, 277, "Réplica 2", "23px", angle=UP)
gap_t = deco(556, 600, 48, 390)
gap_t.add_layout(Span(location=VX, dimension="height", line_color=CROSS, line_width=5))
rep_tr = deco(1040, 1084, 48, 390)
label(rep_tr, 1064, 128, "Réplica 1", "23px", angle=UP)
label(rep_tr, 1064, 277, "Réplica 2", "23px", angle=UP)
side_t = deco(1084, 1124, 48, 390)
label(side_t, 1105, 206, "Non-phosphorylé", "30px", color=SIDE, angle=UP)

# ---------- horizontal separator ----------
hsep = deco(0, 1124, 390, 412)
hsep.segment(x0=[0], y0=[400], x1=[1085], y1=[400], line_color=CROSS, line_width=5)
vline(hsep, VX, 390, 412)

# ---------- bottom half decorations ----------
rm_b = deco(0, 48, 412, 725)
label(rm_b, 25, 565, "RMSD (nm)", "24px", angle=UP)
rep_bl = deco(500, 556, 412, 725)
label(rep_bl, 527, 491, "Réplica 1", "23px", angle=UP)
label(rep_bl, 527, 642, "Réplica 2", "23px", angle=UP)
gap_b = deco(556, 600, 412, 725)
vline(gap_b, VX, 412, 710)
rep_br = deco(1040, 1084, 412, 725)
label(rep_br, 1064, 491, "Réplica 1", "23px", angle=UP)
label(rep_br, 1064, 642, "Réplica 2", "23px", angle=UP)
side_b = deco(1084, 1124, 412, 725)
label(side_b, 1105, 558, "Phosphorylé", "30px", color=SIDE, angle=UP)

# ---------- x-axis titles ----------
foot = deco(0, 1124, 725, 756)
label(foot, 291, 742, "Temps (ns)", "24px")
label(foot, 815, 742, "Temps (ns)", "24px")

layout = column(
    title,
    row(rm_t, tl, rep_tl, gap_t, tr, rep_tr, side_t),
    hsep,
    row(rm_b, bl, rep_bl, gap_b, br, rep_br, side_b),
    foot,
)

open("out.html", "w").write(file_html(layout, INLINE))
